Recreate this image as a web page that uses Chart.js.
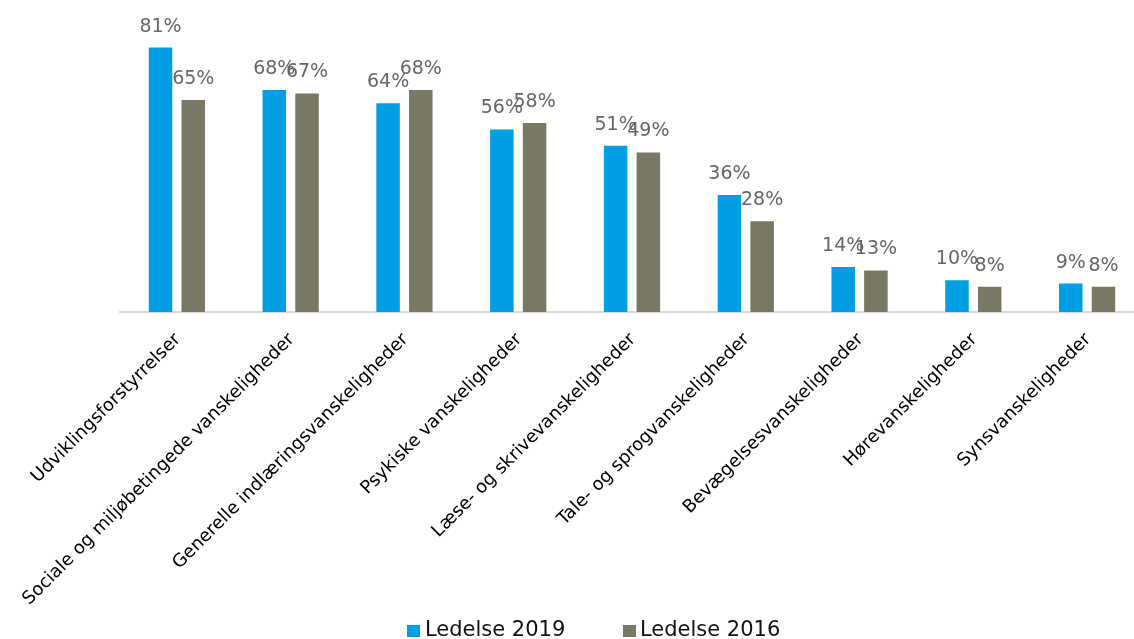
<!DOCTYPE html>
<html lang="da">
<head>
<meta charset="utf-8">
<title>Vanskeligheder – Ledelse 2019 og 2016</title>
<script src="https://cdn.jsdelivr.net/npm/chart.js@4/dist/chart.umd.min.js"></script>
<style>
  html, body { margin: 0; padding: 0; background: #fff; overflow: hidden; width: 1134px; height: 639px; }
  #wrap { position: relative; width: 1134px; height: 639px; overflow: hidden; }
  #chart { position: absolute; left: 0; top: 0; }
  .legend { position: absolute; top: 615px; height: 24px; font-family: "DejaVu Sans", Verdana, sans-serif; font-size: 21px; color: #111; white-space: nowrap; line-height: 24px; }
  .legend .box { position: absolute; top: 10px; width: 13px; height: 12px; }
  .legend .txt { position: absolute; top: 2px; }
</style>
</head>
<body>
<div id="wrap">
  <canvas id="chart" width="1146" height="639"></canvas>
  <div class="legend" id="legend"></div>
</div>
<script>
// Categories (x-axis) and the two survey rounds, in percent
const categories = [
  'Udviklingsforstyrrelser',
  'Sociale og miljøbetingede vanskeligheder',
  'Generelle indlæringsvanskeligheder',
  'Psykiske vanskeligheder',
  'Læse- og skrivevanskeligheder',
  'Tale- og sprogvanskeligheder',
  'Bevægelsesvanskeligheder',
  'Hørevanskeligheder',
  'Synsvanskeligheder'
];
const seriesNames = ['Ledelse 2019', 'Ledelse 2016'];
const ledelse2019 = [81, 68, 64, 56, 51, 36, 14, 10, 9];
const ledelse2016 = [65, 67, 68, 58, 49, 28, 13, 8, 8];

const colors = ['#009FE3', '#787864'];
const FONT = '"DejaVu Sans", Verdana, sans-serif';

// Percent labels above each bar
const valueLabels = {
  id: 'valueLabels',
  afterDatasetsDraw(chart) {
    const ctx = chart.ctx;
    ctx.save();
    ctx.font = '19px ' + FONT;
    ctx.fillStyle = '#666666';
    ctx.textAlign = 'center';
    ctx.textBaseline = 'alphabetic';
    chart.data.datasets.forEach((ds, di) => {
      const meta = chart.getDatasetMeta(di);
      meta.data.forEach((bar, i) => {
        ctx.fillText(ds.data[i] + '%', bar.x, bar.y - 15);
      });
    });
    ctx.restore();
  }
};

const chart = new Chart(document.getElementById('chart'), {
  type: 'bar',
  data: {
    labels: categories,
    datasets: [
      { label: seriesNames[0], data: ledelse2019, backgroundColor: colors[0], borderColor: 'rgba(255,255,255,0.35)', borderWidth: 1 },
      { label: seriesNames[1], data: ledelse2016, backgroundColor: colors[1], borderColor: 'rgba(255,255,255,0.35)', borderWidth: 1 }
    ]
  },
  options: {
    responsive: false,
    animation: false,
    events: [],
    layout: { padding: { left: 120, right: 2, top: 17, bottom: 0 } },
    datasets: { bar: { categoryPercentage: 0.575, barPercentage: 0.78 } },
    plugins: {
      legend: { display: false },
      tooltip: { enabled: false }
    },
    scales: {
      x: {
        grid: { display: false, drawTicks: false },
        border: { display: true, color: '#d9d9d9', width: 2 },
        ticks: {
          autoSkip: false,
          minRotation: 45,
          maxRotation: 45,
          padding: 17,
          labelOffset: 1,
          color: '#000000',
          font: { family: FONT, size: 18 }
        },
        afterFit(scale) {
          scale.height = 639 - 312;
          scale.paddingLeft = 0;
          scale.paddingRight = 0;
        }
      },
      y: {
        display: false,
        min: 0,
        max: 90
      }
    }
  },
  plugins: [valueLabels]
});

// Legend below the axis labels
const legendEl = document.getElementById('legend');
const legendPos = [{ box: 407, text: 425 }, { box: 623, text: 640 }];
seriesNames.forEach((name, i) => {
  const b = document.createElement('span');
  b.className = 'box';
  b.style.left = legendPos[i].box + 'px';
  b.style.background = colors[i];
  const t = document.createElement('span');
  t.className = 'txt';
  t.style.left = legendPos[i].text + 'px';
  t.textContent = name;
  legendEl.appendChild(b);
  legendEl.appendChild(t);
});
legendEl.style.left = '0px';
legendEl.style.width = '1134px';
</script>
</body>
</html>
